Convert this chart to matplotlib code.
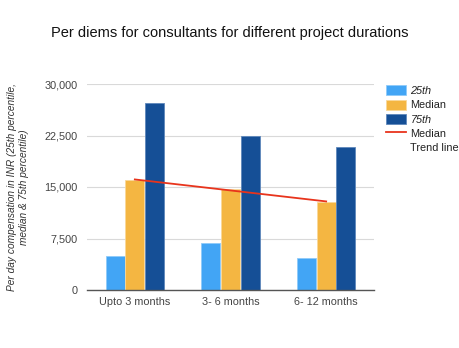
import numpy as np
import matplotlib.pyplot as plt
from matplotlib.patches import Rectangle

plt.rcParams['font.family'] = ['Liberation Sans', 'DejaVu Sans']

durations = ["Upto 3 months", "3- 6 months", "6- 12 months"]
p25 = [4950, 6800, 4700]
median = [16000, 14700, 12800]
p75 = [27200, 22500, 20800]
yticks = [0, 7500, 15000, 22500, 30000]

c25 = "#42a5f5"
cmed = "#f4b642"
c75 = "#154f96"
ctrend = "#e8341c"

fig = plt.figure(figsize=(4.6, 3.48), dpi=100)
ax = fig.add_axes([87/460, 1 - 290/348, 287/460, 206/348])

x = np.arange(len(durations))
w = 0.2
off = 0.205
b1 = ax.bar(x - off, p25, w, color=c25, edgecolor="#8fcaf9", linewidth=0.6, zorder=2)
b2 = ax.bar(x, median, w, color=cmed, edgecolor="#f9d89a", linewidth=0.6, zorder=2)
b3 = ax.bar(x + off, p75, w, color=c75, edgecolor="#5f88bb", linewidth=0.6, zorder=2)

# linear trend of the median
k, b = np.polyfit(x, median, 1)
ln, = ax.plot(x[[0, -1]], k * x[[0, -1]] + b, color=ctrend, lw=1.3, zorder=3)

ax.set_xlim(-0.5, 2.5)
ax.set_ylim(0, 30000)
ax.set_yticks(yticks)
ax.set_yticklabels([f"{v:,}" for v in yticks])
ax.set_xticks(x)
ax.set_xticklabels(durations)
ax.tick_params(axis="both", length=0, labelsize=7.8, labelcolor="#444444")
ax.tick_params(axis="y", pad=7)
ax.tick_params(axis="x", pad=5)
ax.grid(axis="y", color="#d9d9d9", lw=0.8, zorder=0)
for s in ["top", "right", "left"]:
    ax.spines[s].set_visible(False)
ax.spines["bottom"].set_color("#555555")
ax.spines["bottom"].set_linewidth(1.0)

ax.set_ylabel("Per day compensation in INR (25th percentile,\nmedian & 75th percentile)",
              fontsize=7.3, style="italic", color="#333333", labelpad=11)

fig.text(0.5, 1 - 33/348, "Per diems for consultants for different project durations",
         ha="center", va="center", fontsize=10.5, color="#111111")

blank = Rectangle((0, 0), 1, 1, fill=False, edgecolor="none", visible=False)
leg = ax.legend([b1, b2, b3, ln, blank], ["25th", "Median", "75th", "Median", "Trend line"],
                loc="upper left", bbox_to_anchor=(1.025, 1.015), frameon=False,
                fontsize=7.8, handlelength=1.85, handleheight=1.05, labelspacing=0.33,
                handletextpad=0.45, borderaxespad=0)
for t in leg.get_texts():
    t.set_color("#222222")
leg.get_texts()[0].set_style("italic")
leg.get_texts()[2].set_style("italic")

fig.savefig("out.png", dpi=100)
